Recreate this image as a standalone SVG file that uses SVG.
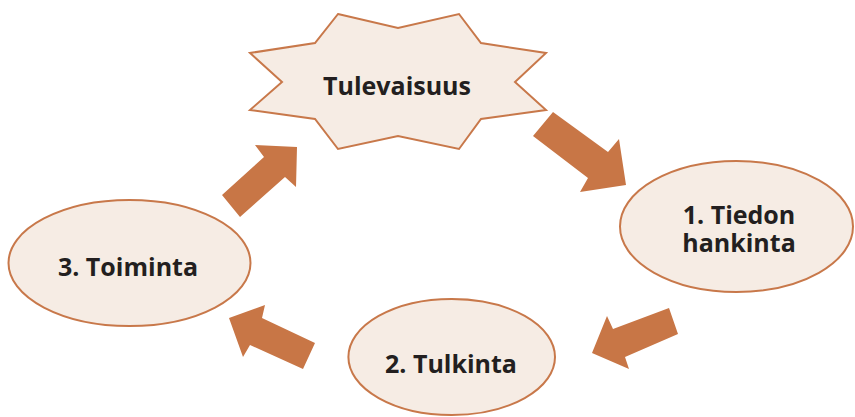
<svg xmlns="http://www.w3.org/2000/svg" width="855" height="417" viewBox="0 0 855 417">
  <style>
    .shape { fill: #F6ECE4; stroke: #C8784A; stroke-width: 2; }
    .arrow { fill: #C87646; }
    .label { font-family: "Open Sans", "Liberation Sans", sans-serif; font-weight: 700; font-size: 25px; fill: #231F20; text-anchor: middle; }
  </style>
  <rect width="855" height="417" fill="#FFFFFF"/>

  <!-- cycle arrows -->
  <g id="connectors">
    <polygon class="arrow" points="553,112 608,152 619,139 626,185 580,192 588,178 533,136"/>
    <polygon class="arrow" points="669,308 678,334 625,357 629,369 592,353 607,316 613,329"/>
    <polygon class="arrow" points="315,343 303,369 250,345 243,357 229,318 265,305 262,318"/>
    <polygon class="arrow" points="222,195 264,157 255,145 297,147 296,187 285,177 240,217"/>
  </g>

  <g id="tulevaisuus">
    <polygon class="shape" points="338,14 398,28 459,14 481,43 546,53 515,82 546,110 481,119 459,149 398,136 338,149 315,119 250,110 282,82 250,53 315,43"/>
    <text class="label" x="397" y="95">Tulevaisuus</text>
  </g>

  <g id="tiedon-hankinta">
    <ellipse class="shape" cx="736.5" cy="226.5" rx="116.5" ry="65.5"/>
    <text class="label" x="739" y="224">1. Tiedon</text>
    <text class="label" x="739" y="252">hankinta</text>
  </g>

  <g id="tulkinta">
    <ellipse class="shape" cx="451.7" cy="357" rx="103.3" ry="58"/>
    <text class="label" x="451" y="373">2. Tulkinta</text>
  </g>

  <g id="toiminta">
    <ellipse class="shape" cx="129.5" cy="263" rx="121" ry="63"/>
    <text class="label" x="128" y="276">3. Toiminta</text>
  </g>
</svg>
